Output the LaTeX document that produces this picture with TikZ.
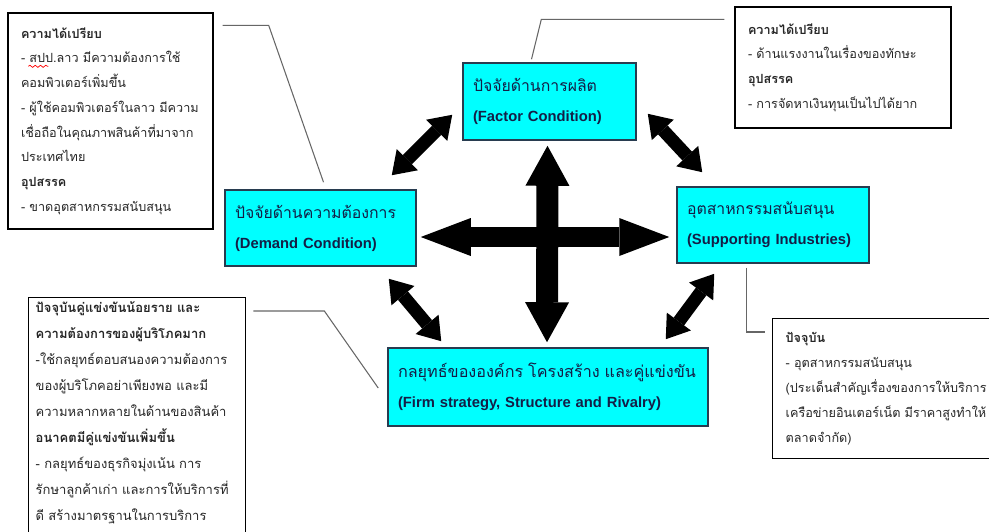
\documentclass[tikz,border=0pt]{standalone}
\usepackage{fontspec}
\setmainfont{Liberation Sans}
\newfontfamily\thai[Script=Thai]{Loma}
\usepackage{tikz}
\usetikzlibrary{arrows.meta,positioning,calc,decorations.pathmorphing}
\definecolor{boxcyan}{RGB}{0,255,255}
\definecolor{boxedge}{RGB}{40,60,80}
\definecolor{titleink}{RGB}{20,30,70}
\tikzstyle{factorbox}=[draw=boxedge,line width=0.9pt,fill=boxcyan,text=titleink,align=left,inner xsep=0.2cm,font=\fontsize{8.4}{17}\selectfont]
\tikzstyle{notebox}=[draw=black,line width=0.8pt,fill=white,align=left,inner xsep=0.26cm,inner ysep=0.08cm,text=black!85,font=\thai\fontsize{7.2}{14.1}\selectfont]
\tikzstyle{callout}=[draw=black!60,line width=0.6pt]
\tikzstyle{wide arrow}=[line width=0.4cm,{Triangle[length=1cm,width=0.76cm,line width=0pt]}-{Triangle[length=1cm,width=0.76cm,line width=0pt]}]
\tikzstyle{tall arrow}=[line width=0.44cm,{Triangle[length=0.8cm,width=0.88cm,line width=0pt]}-{Triangle[length=0.8cm,width=0.88cm,line width=0pt]}]
\tikzstyle{side arrow}=[line width=0.26cm,{Triangle[length=0.44cm,width=0.6cm,line width=0pt]}-{Triangle[length=0.44cm,width=0.6cm,line width=0pt]}]
\newcommand{\thaititle}[1]{{\thai\fontsize{9}{17}\selectfont #1}}

\begin{document}
\begin{tikzpicture}[x=0.02cm,y=-0.02cm]
    \useasboundingbox[fill=white] (0,0) rectangle (989,531);
    % the four factors
    \node [factorbox,minimum width=3.46cm,minimum height=1.54cm,text width=3.06cm] (F) at (549.5,101.5)
      {\thaititle{ปัจจัยด้านการผลิต}\\\textbf{(Factor Condition)}};
    \node [factorbox,minimum width=3.82cm,minimum height=1.52cm,text width=3.42cm] (D) at (320.5,228)
      {\thaititle{ปัจจัยด้านความต้องการ}\\\textbf{(Demand Condition)}};
    \node [factorbox,minimum width=3.84cm,minimum height=1.52cm,text width=3.44cm] (S) at (773,225)
      {\thaititle{อุตสาหกรรมสนับสนุน}\\\textbf{(Supporting Industries)}};
    \node [factorbox,minimum width=6.4cm,minimum height=1.56cm,text width=6.0cm] (R) at (548,387)
      {\mbox{\thai\fontsize{9.2}{17}\selectfont กลยุทธ์ขององค์กร โครงสร้าง และคู่แข่งขัน}\\\textbf{(Firm strategy, Structure and Rivalry)}};
    % notes
    \node [notebox,minimum width=4.1cm,minimum height=4.32cm,text width=3.58cm] (TL) at (110.5,121)
      {\textbf{ความได้เปรียบ}\\
       - สปป.ลาว มีความต้องการใช้\\
       คอมพิวเตอร์เพิ่มขึ้น\\
       - ผู้ใช้คอมพิวเตอร์ในลาว มีความ\\
       เชื่อถือในคุณภาพสินค้าที่มาจาก\\
       ประเทศไทย\\
       \textbf{อุปสรรค}\\
       - ขาดอุตสาหกรรมสนับสนุน};
    \draw [red,line width=0.4pt,decorate,decoration={snake,amplitude=0.6,segment length=3}]
      ($(TL.north west)+(21,54)$) -- ++(20,0);
    \node [notebox,minimum width=4.32cm,minimum height=2.42cm,text width=3.8cm] (TR) at (843,67.5)
      {\textbf{ความได้เปรียบ}\\
       - ด้านแรงงานในเรื่องของทักษะ\\
       \textbf{อุปสรรค}\\
       - การจัดหาเงินทุนเป็นไปได้ยาก};
    \node [notebox,anchor=north west,minimum width=4.34cm,text width=4.06cm,inner xsep=0.14cm,
           font=\thai\fontsize{7.4}{14.8}\selectfont] (BL) at (28,297)
      {\textbf{ปัจจุบันคู่แข่งขันน้อยราย และ}\\
       \textbf{ความต้องการของผู้บริโภคมาก}\\
       -ใช้กลยุทธ์ตอบสนองความต้องการ\\
       ของผู้บริโภคอย่าเพียงพอ และมี\\
       ความหลากหลายในด้านของสินค้า\\
       \textbf{อนาคตมีคู่แข่งขันเพิ่มขึ้น}\\
       - กลยุทธ์ของธุรกิจมุ่งเน้น การ\\
       รักษาลูกค้าเก่า และการให้บริการที่\\
       ดี สร้างมาตรฐานในการบริการ\\
       \mbox{}};
    \node [notebox,anchor=north west,minimum width=4.6cm,minimum height=2.8cm,text width=4.08cm] (BR) at (772,318)
      {\textbf{ปัจจุบัน}\\
       - อุตสาหกรรมสนับสนุน\\
       (ประเด็นสำคัญเรื่องของการให้บริการ\\
       เครือข่ายอินเตอร์เน็ต มีราคาสูงทำให้\\
       ตลาดจำกัด)};
    % arrows
    \draw [wide arrow] ($(D.east)+(4,9)$) -- ($(S.west)+(-7,12)$);
    \draw [tall arrow] ($(F.south)+(-2,5)$) -- ($(R.north)+(-1,-5)$);
    \draw [side arrow] ($(D.north east)+(-25,-14)$) -- ($(F.south west)+(-10,-26)$);
    \draw [side arrow] ($(F.south east)+(11,-27)$) -- ($(S.north west)+(26,-14)$);
    \draw [side arrow] ($(D.south east)+(-28,12)$) -- ($(R.north west)+(54,-6)$);
    \draw [side arrow] ($(S.south west)+(38,10)$) -- ($(R.north east)+(-43,-8)$);
    % callouts
    \draw [callout] ($(TL.north east)+(9,13)$) -- ++(46,0) -- ($(D.north)+(3,-7)$);
    \draw [callout] ($(TR.north west)+(-10,13)$) -- ++(-183,0) -- ($(F.north)+(-18,-3)$);
    \draw [callout] ($(BL.north east)+(7,14)$) -- ++(71,0) -- ($(R.west)+(-9,1)$);
    \draw [callout] ($(S.south west)+(70,4)$) |- ($(BR.north west)+(-7,14)$);
\end{tikzpicture}
\end{document}
